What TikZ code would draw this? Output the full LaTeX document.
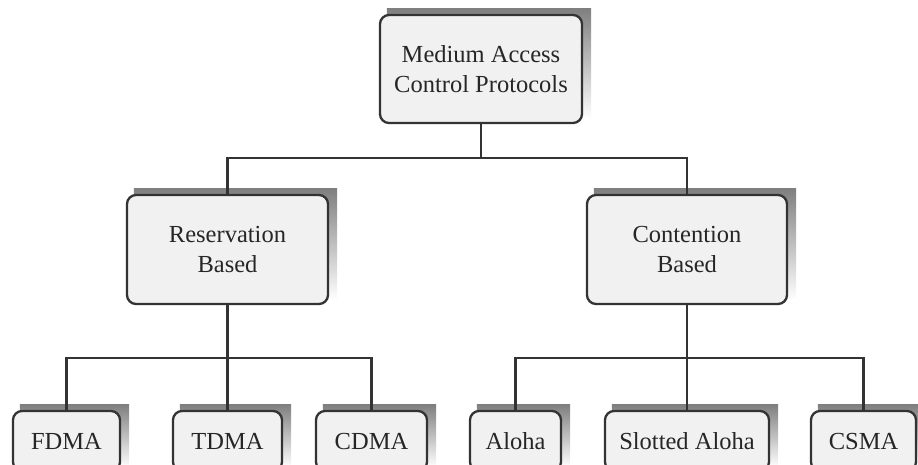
\documentclass[tikz,border=0pt]{standalone}
\usepackage{fontspec}
\setmainfont{Liberation Serif}
\usetikzlibrary{backgrounds}
\definecolor{edge}{HTML}{333333}
\definecolor{boxfill}{HTML}{F1F1F1}
\definecolor{shade}{HTML}{C9C9C9}
\definecolor{txt}{HTML}{262626}
\tikzset{
  mbox/.style={draw=edge, line width=2.3pt, fill=boxfill, rounded corners=9pt,
    align=center, text=txt, inner sep=0pt,
    font=\fontsize{24.5}{30}\selectfont},
  conn/.style={draw=edge, line width=2.8pt},
}
\newcommand{\boxshadow}[1]{\fill[shade] ([xshift=8pt,yshift=5pt]#1.south west) rectangle ([xshift=8pt,yshift=5pt]#1.north east);}
\begin{document}
\begin{tikzpicture}[x=1pt,y=-1pt]
\useasboundingbox (0,0) rectangle (918,464);
\node[mbox, minimum width=202pt, minimum height=108pt] (top) at (481,69) {Medium Access\\Control Protocols};
\node[mbox, minimum width=201pt, minimum height=109pt] (res) at (227.5,249.5) {Reservation\\Based};
\node[mbox, minimum width=200pt, minimum height=109pt] (con) at (687,249.5) {Contention\\Based};
\node[mbox, minimum width=107pt, minimum height=60pt] (fdma) at (66.5,441) {FDMA};
\node[mbox, minimum width=109pt, minimum height=60pt] (tdma) at (227.5,441) {TDMA};
\node[mbox, minimum width=111pt, minimum height=60pt] (cdma) at (371.5,441) {CDMA};
\node[mbox, minimum width=91pt, minimum height=60pt] (aloha) at (515.5,441) {Aloha};
\node[mbox, minimum width=164pt, minimum height=60pt] (slot) at (687,441) {Slotted Aloha};
\node[mbox, minimum width=105pt, minimum height=60pt] (csma) at (863.5,441) {CSMA};
\begin{scope}[on background layer]
\boxshadow{top}\boxshadow{res}\boxshadow{con}
\boxshadow{fdma}\boxshadow{tdma}\boxshadow{cdma}
\boxshadow{aloha}\boxshadow{slot}\boxshadow{csma}
\end{scope}
\coordinate (j1) at (top.south |- 0,158);
\coordinate (j2) at (res.south |- 0,358);
\coordinate (j3) at (con.south |- 0,358);
\begin{scope}[on background layer]
\draw[conn] (top.south) -- (j1);
\draw[conn] (res.north) |- (j1) -| (con.north);
\draw[conn] (res.south) -- (j2);
\draw[conn] (fdma.north) |- (j2) -| (cdma.north);
\draw[conn] (j2) -- (tdma.north);
\draw[conn] (con.south) -- (j3);
\draw[conn] (aloha.north) |- (j3) -| (csma.north);
\draw[conn] (j3) -- (slot.north);
\end{scope}
\end{tikzpicture}
\end{document}
